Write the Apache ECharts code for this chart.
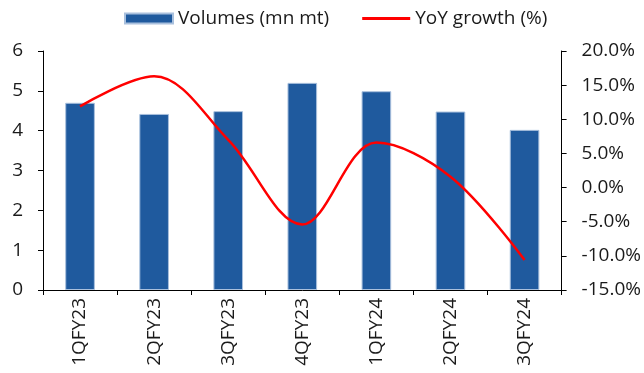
<!DOCTYPE html>
<html>
<head>
<meta charset="utf-8">
<script src="https://cdn.jsdelivr.net/npm/echarts@6/dist/echarts.min.js"></script>
<style>
  html, body { margin: 0; padding: 0; background: #fff; }
  #main { width: 644px; height: 373px; }
</style>
</head>
<body>
<div id="main"></div>
<script>
var quarters = ['1QFY23', '2QFY23', '3QFY23', '4QFY23', '1QFY24', '2QFY24', '3QFY24'];
var volumes = [4.70, 4.42, 4.49, 5.20, 4.99, 4.48, 4.02];
var yoyGrowth = [11.9, 16.3, 7.0, -5.4, 6.6, 1.6, -10.6];

var myChart = echarts.init(document.getElementById('main'));
var fontName = 'Open Sans';

var option = {
  animation: false,
  textStyle: { fontFamily: fontName },
  legend: {
    top: 4,
    left: 119,
    itemGap: 33,
    itemWidth: 48,
    itemHeight: 10,
    textStyle: { fontSize: 19, color: '#1a1a1a', fontFamily: fontName },
    data: [
      { name: 'Volumes (mn mt)', icon: 'rect' },
      { name: 'YoY growth (%)', icon: 'path://M0,0 H50 V3 H0 Z' }
    ]
  },
  grid: { left: 43, right: 81, top: 51, bottom: 83 },
  xAxis: {
    type: 'category',
    data: quarters,
    axisLine: { lineStyle: { color: '#000', width: 1 } },
    axisTick: { show: true, length: 5, lineStyle: { color: '#000' } },
    axisLabel: {
      rotate: 90,
      fontSize: 19,
      color: '#1a1a1a',
      margin: 8
    }
  },
  yAxis: [
    {
      type: 'value',
      min: 0,
      max: 6,
      interval: 1,
      splitLine: { show: false },
      axisLine: { show: true, lineStyle: { color: '#000' } },
      axisTick: { show: true, length: 5, lineStyle: { color: '#000' } },
      axisLabel: { fontSize: 19, color: '#1a1a1a', margin: 20 }
    },
    {
      type: 'value',
      min: -15,
      max: 20,
      interval: 5,
      splitLine: { show: false },
      axisLine: { show: true, lineStyle: { color: '#000' } },
      axisTick: { show: true, length: 5, lineStyle: { color: '#000' } },
      axisLabel: {
        fontSize: 19,
        color: '#1a1a1a',
        margin: 20,
        formatter: function (v) { return v.toFixed(1) + '%'; }
      }
    }
  ],
  series: [
    {
      name: 'Volumes (mn mt)',
      type: 'bar',
      data: volumes,
      barWidth: '40%',
      itemStyle: { color: '#1F5A9E', borderColor: '#A9C0DD', borderWidth: 1 }
    },
    {
      name: 'YoY growth (%)',
      type: 'line',
      yAxisIndex: 1,
      data: yoyGrowth,
      smooth: 0.35,
      showSymbol: false,
      symbol: 'none',
      lineStyle: { color: '#FF0000', width: 2.5 },
      itemStyle: { color: '#FF0000' }
    }
  ]
};

myChart.setOption(option);
</script>
</body>
</html>
